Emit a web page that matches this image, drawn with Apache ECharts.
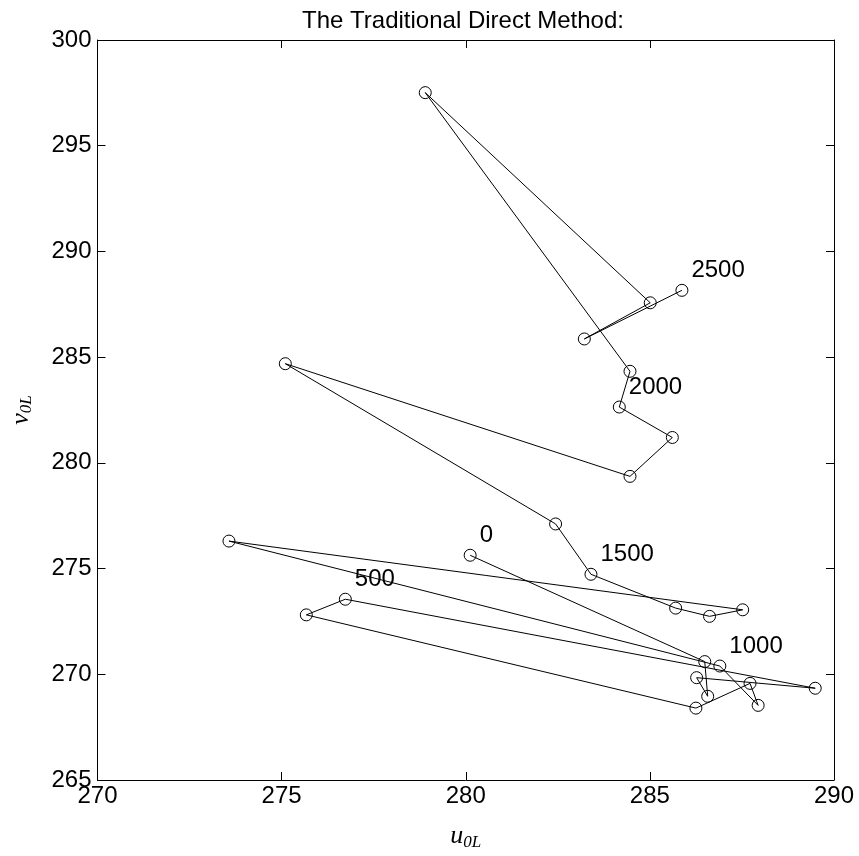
<!DOCTYPE html>
<html>
<head>
<meta charset="utf-8">
<script src="https://cdn.jsdelivr.net/npm/echarts@6/dist/echarts.min.js"></script>
<style>html,body{margin:0;padding:0;background:#fff;}#c{width:859px;height:856px;}</style>
</head>
<body>
<div id="c"></div>
<script>
// u_{0L} and v_{0L} at iterations 0,100,...,2500
const iterations = [0,100,200,300,400,500,600,700,800,900,1000,1100,1200,1300,1400,1500,1600,1700,1800,1900,2000,2100,2200,2300,2400,2500];
const uValues = [280.12,286.49,286.57,286.27,289.49,276.73,275.67,286.25,287.72,287.94,286.90,273.57,287.52,286.62,285.70,283.40,282.44,275.10,284.46,285.61,284.17,284.46,278.90,285.01,283.22,285.87];
const vValues = [275.63,270.60,268.96,269.84,269.34,273.55,272.81,268.40,269.57,268.53,270.39,276.30,273.05,272.74,273.13,274.73,277.11,284.69,279.36,281.20,282.64,284.33,297.51,287.57,285.86,288.16];
const labelledIterations = [0,500,1000,1500,2000,2500];
const xTicks = [270,275,280,285,290];
const yTicks = [265,270,275,280,285,290,295,300];

const FONT = 'Liberation Sans, Arial, Helvetica, sans-serif';
const SERIF = 'Liberation Serif, DejaVu Serif, serif';
const data = uValues.map((u, i) => {
  const item = { value: [u, vValues[i]] };
  if (labelledIterations.includes(iterations[i])) {
    item.label = { show: true, formatter: String(iterations[i]) };
  }
  return item;
});

const nameRich = {
  i: { fontFamily: SERIF, fontStyle: 'italic', fontSize: 26, color: '#000' },
  s: { fontFamily: SERIF, fontStyle: 'italic', fontSize: 17, color: '#000', padding: [12, 0, 0, 0] }
};

const chart = echarts.init(document.getElementById('c'), null, { renderer: 'canvas' });
const baseAxis = {
  type: 'value',
  interval: 5,
  axisLine: { show: true, onZero: false, lineStyle: { color: '#000', width: 1 } },
  axisTick: { show: true, inside: true, length: 8, lineStyle: { color: '#000', width: 1 } },
  splitLine: { show: false }
};
chart.setOption({
  animation: false,
  backgroundColor: '#fff',
  title: {
    text: 'The Traditional Direct Method:',
    left: 458, top: 4, textAlign: 'center',
    textStyle: { fontFamily: FONT, fontSize: 24, fontWeight: 'normal', color: '#000' }
  },
  grid: { left: 83, right: 25, top: 40, bottom: 65, containLabel: false },
  xAxis: [
    Object.assign({}, baseAxis, {
      min: xTicks[0], max: xTicks[xTicks.length - 1], position: 'bottom',
      axisLabel: { fontFamily: FONT, fontSize: 24, color: '#000', margin: 4 },
      name: '{i|u}{s|0L}', nameLocation: 'middle', nameGap: 42,
      nameTextStyle: { rich: nameRich }
    }),
    Object.assign({}, baseAxis, {
      min: xTicks[0], max: xTicks[xTicks.length - 1], position: 'top',
      axisLabel: { show: false }
    })
  ],
  yAxis: [
    Object.assign({}, baseAxis, {
      min: yTicks[0], max: yTicks[yTicks.length - 1], position: 'left',
      axisLabel: { fontFamily: FONT, fontSize: 24, color: '#000', margin: 6 },
      name: '{i|v}{s|0L}', nameLocation: 'middle', nameGap: 62, nameRotate: 90,
      nameTextStyle: { rich: nameRich }
    }),
    Object.assign({}, baseAxis, {
      min: yTicks[0], max: yTicks[yTicks.length - 1], position: 'right',
      axisLabel: { show: false }
    })
  ],
  series: [{
    type: 'line',
    data: data,
    xAxisIndex: 0, yAxisIndex: 0,
    symbol: 'circle',
    symbolSize: 12,
    showAllSymbol: true,
    itemStyle: { color: 'transparent', borderColor: '#000', borderWidth: 1 },
    lineStyle: { color: '#000', width: 1 },
    label: {
      position: 'right', distance: 3, offset: [0, -20],
      fontFamily: FONT, fontSize: 24, color: '#000'
    },
    emphasis: { disabled: true }
  }]
});
</script>
</body>
</html>
